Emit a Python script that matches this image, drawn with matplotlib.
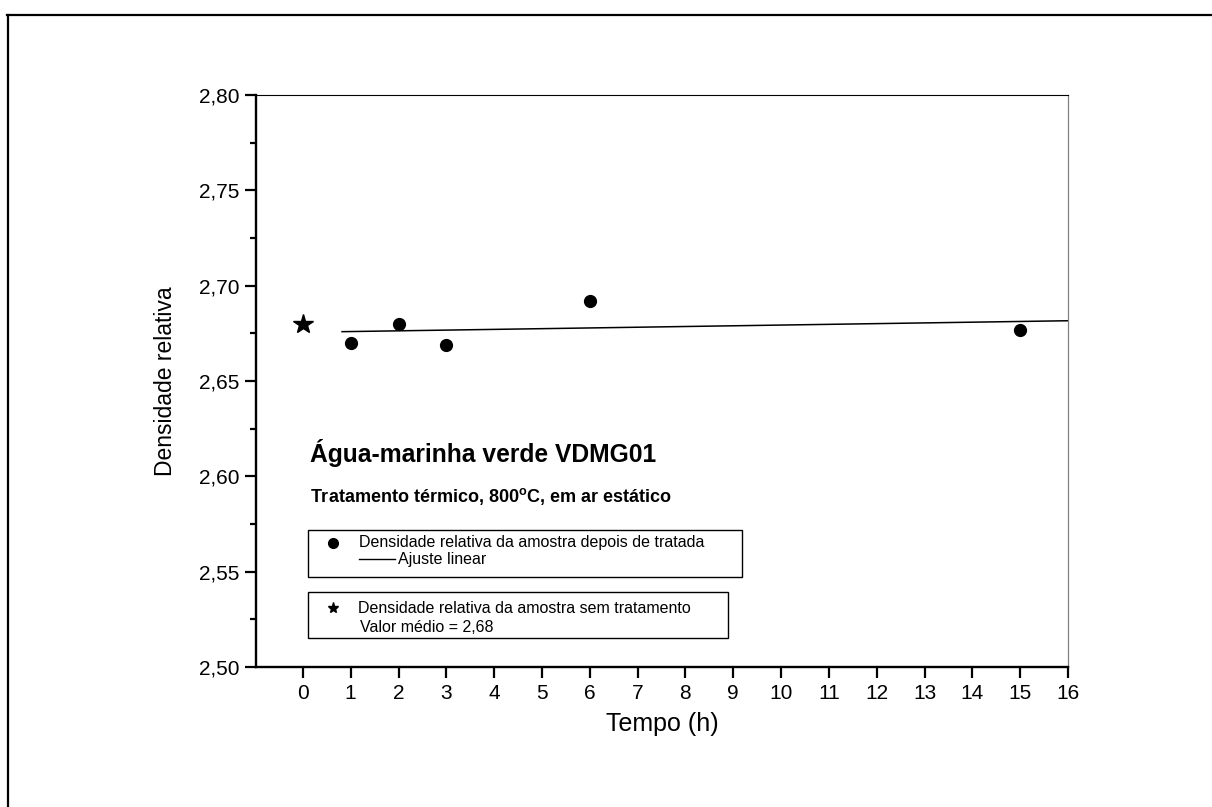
import numpy as np
import matplotlib
matplotlib.use("Agg")
import matplotlib.pyplot as plt
from matplotlib.patches import Rectangle
from matplotlib.lines import Line2D
from matplotlib.ticker import FixedLocator, MultipleLocator

plt.rcParams['font.family'] = ['Liberation Sans', 'DejaVu Sans']
plt.rcParams['mathtext.fontset'] = 'custom'
plt.rcParams['mathtext.rm'] = 'Liberation Sans'
plt.rcParams['mathtext.bf'] = 'Liberation Sans:bold'

# ---- data ----
tempo_h = [1, 2, 3, 6, 15]
densidade_tratada = [2.670, 2.680, 2.669, 2.692, 2.677]
tempo_sem = [0]
densidade_sem = [2.680]
fit_range = [0.82, 16]
x_ticks = list(range(0, 17))
y_ticks = [2.50, 2.55, 2.60, 2.65, 2.70, 2.75, 2.80]
y_ticklabels = ["2,50", "2,55", "2,60", "2,65", "2,70", "2,75", "2,80"]

W, H = 1212, 807
fig = plt.figure(figsize=(W / 100, H / 100), dpi=100)
ax = fig.add_axes([256 / W, 1 - 667 / H, 812 / W, 572 / H])

# page border (top and left)
fig.add_artist(Line2D([7 / W, 1.0], [1 - 15 / H, 1 - 15 / H], color='black', lw=1.6,
                      transform=fig.transFigure))
fig.add_artist(Line2D([7.5 / W, 7.5 / W], [1 - 15 / H, 0.0], color='black', lw=1.6,
                      transform=fig.transFigure))

# data
ax.plot(tempo_h, densidade_tratada, 'o', color='black', ms=8.5, zorder=3)
ax.plot(tempo_sem, densidade_sem, '*', color='black', ms=15, zorder=3, clip_on=False)
coef = np.polyfit(tempo_h, densidade_tratada, 1)
xf = np.array(fit_range)
ax.plot(xf, np.polyval(coef, xf), '-', color='black', lw=1.1)

ax.set_xlim(-0.98, 16)
ax.set_ylim(2.50, 2.80)
ax.xaxis.set_major_locator(FixedLocator(x_ticks))
ax.set_xticklabels([str(t) for t in x_ticks])
ax.yaxis.set_major_locator(FixedLocator(y_ticks))
ax.set_yticklabels(y_ticklabels)
ax.yaxis.set_minor_locator(MultipleLocator(0.025))

for s in ['left', 'bottom']:
    ax.spines[s].set_linewidth(1.7)
ax.spines['top'].set_linewidth(0.8)
ax.spines['top'].set_color('black')
ax.spines['right'].set_linewidth(0.9)
ax.spines['right'].set_color('#808080')

ax.tick_params(axis='both', which='major', direction='out', length=8, width=1.6,
               labelsize=15)
ax.tick_params(axis='y', which='minor', direction='out', length=4.5, width=1.6)
ax.tick_params(axis='x', pad=4)
ax.tick_params(axis='y', pad=4)

ax.set_xlabel('Tempo (h)', fontsize=18)
ax.xaxis.set_label_coords(0.5, -0.079)
ax.set_ylabel('Densidade relativa', fontsize=16.5)
ax.yaxis.set_label_coords(-0.097, 0.5)

# annotations
ax.text(0.0665, 0.358, 'Água-marinha verde VDMG01', transform=ax.transAxes,
        fontsize=17.7, fontweight='bold', va='baseline', ha='left')
ax.text(0.0665, 0.2885, r'Tratamento térmico, 800$^{\mathbf{o}}$C, em ar estático',
        transform=ax.transAxes, fontsize=13, fontweight='bold', va='baseline', ha='left')

# legend box 1
ax.add_patch(Rectangle((0.064, 0.1573), 0.5985 - 0.064, 0.2395 - 0.1573,
                       transform=ax.transAxes, fill=False, edgecolor='black', lw=1.0))
ax.plot([0.0948], [0.2168], 'o', color='black', ms=7, transform=ax.transAxes, clip_on=False)
ax.text(0.1268, 0.2168, 'Densidade relativa da amostra depois de tratada',
        transform=ax.transAxes, fontsize=11.5, va='center', ha='left')
ax.plot([0.1268, 0.1712], [0.1888, 0.1888], '-', color='black', lw=1.0,
        transform=ax.transAxes, clip_on=False)
ax.text(0.1749, 0.1888, 'Ajuste linear', transform=ax.transAxes, fontsize=11.5,
        va='center', ha='left')

# legend box 2
ax.add_patch(Rectangle((0.064, 0.0507), 0.5813 - 0.064, 0.1311 - 0.0507,
                       transform=ax.transAxes, fill=False, edgecolor='black', lw=1.0))
ax.plot([0.0948], [0.1031], '*', color='black', ms=8, transform=ax.transAxes, clip_on=False)
ax.text(0.1256, 0.1031, 'Densidade relativa da amostra sem tratamento',
        transform=ax.transAxes, fontsize=11.5, va='center', ha='left')
ax.text(0.128, 0.0699, 'Valor médio = 2,68', transform=ax.transAxes, fontsize=11.5,
        va='center', ha='left')

fig.savefig('out.png', dpi=100, facecolor='white')
